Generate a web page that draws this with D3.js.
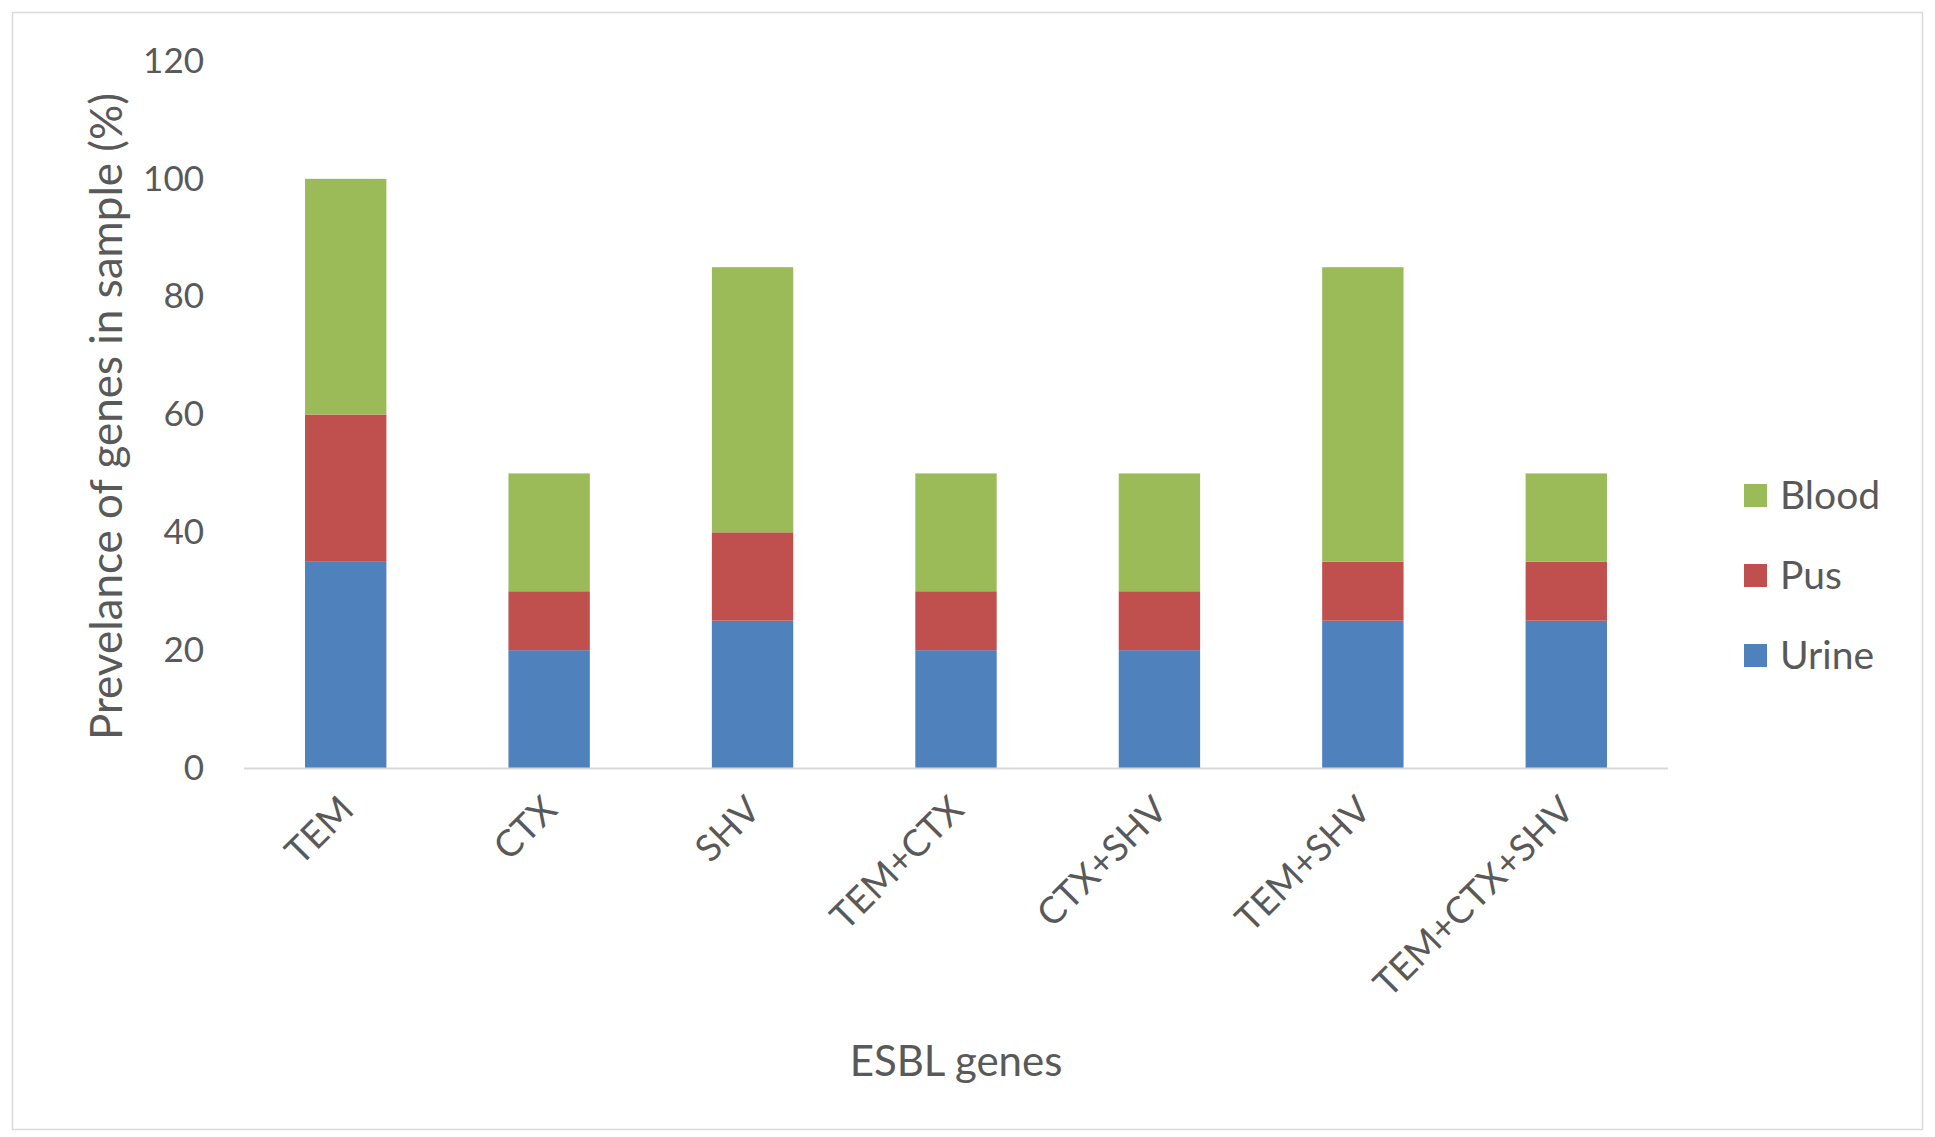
<!DOCTYPE html>
<html>
<head>
<meta charset="utf-8">
<script src="https://cdn.jsdelivr.net/npm/d3@7"></script>
<style>
  html, body { margin: 0; padding: 0; background: #fff; }
  svg text { font-family: Lato, "Open Sans", sans-serif; fill: #595959; }
</style>
</head>
<body>
<svg id="chart" width="1935" height="1137"></svg>
<script>
// ESBL gene combinations on the x axis
const categories = ["TEM", "CTX", "SHV", "TEM+CTX", "CTX+SHV", "TEM+SHV", "TEM+CTX+SHV"];
// Prevalence (%) contributed by each sample type, stacked bottom to top
const urine = [35, 20, 25, 20, 20, 25, 25];
const pus   = [25, 10, 15, 10, 10, 10, 10];
const blood = [40, 20, 45, 20, 20, 50, 15];
const seriesNames = ["Urine", "Pus", "Blood"];
const yTicks = [0, 20, 40, 60, 80, 100, 120];

const colors = { Urine: "#4F81BD", Pus: "#C0504D", Blood: "#9BBB59" };

const svg = d3.select("#chart");
const W = 1935, H = 1137;

// outer chart frame
svg.append("rect")
  .attr("x", 12.5).attr("y", 12.5)
  .attr("width", W - 25).attr("height", H - 20)
  .attr("fill", "#fff").attr("stroke", "#D9D9D9").attr("stroke-width", 1.5);

const plot = { left: 244, right: 1668, top: 61, bottom: 768 };

const x = d3.scaleBand().domain(categories)
  .range([plot.left, plot.right]).paddingInner(0.6).paddingOuter(0.3);
const y = d3.scaleLinear().domain([0, 120]).range([plot.bottom, plot.top]);

const table = categories.map((c, i) => ({ cat: c, Urine: urine[i], Pus: pus[i], Blood: blood[i] }));
const stacked = d3.stack().keys(seriesNames)(table);

svg.append("g").selectAll("g").data(stacked).join("g")
  .attr("fill", d => colors[d.key])
  .selectAll("rect").data(d => d).join("rect")
  .attr("x", d => x(d.data.cat))
  .attr("width", x.bandwidth())
  .attr("y", d => y(d[1]))
  .attr("height", d => y(d[0]) - y(d[1]));

// x axis line
svg.append("line")
  .attr("x1", plot.left).attr("x2", plot.right)
  .attr("y1", plot.bottom + 0.5).attr("y2", plot.bottom + 0.5)
  .attr("stroke", "#D9D9D9").attr("stroke-width", 2);

// y axis tick labels
const yAxis = svg.append("g")
  .attr("transform", `translate(${plot.left},0)`)
  .call(d3.axisLeft(y).tickValues(yTicks).tickSize(0).tickPadding(40));
yAxis.select(".domain").remove();
yAxis.selectAll("text")
  .style("font-size", "35px").attr("fill", "#595959")
  .style("font-family", "Lato, 'Open Sans', sans-serif");

// x axis category labels, rotated
const xAxis = svg.append("g")
  .attr("transform", `translate(0,${plot.bottom})`)
  .call(d3.axisBottom(x).tickSize(0).tickPadding(0));
xAxis.select(".domain").remove();
xAxis.selectAll("text")
  .style("font-size", "37px").attr("fill", "#595959")
  .style("font-family", "Lato, 'Open Sans', sans-serif")
  .attr("text-anchor", "end")
  .attr("dy", null).attr("y", 0)
  .attr("transform", "translate(10,44) rotate(-45)");

// axis titles
svg.append("text")
  .attr("transform", `translate(122,${(plot.top + plot.bottom) / 2 + 2}) rotate(-90)`)
  .attr("text-anchor", "middle")
  .style("font-size", "44px")
  .text("Prevelance of genes in sample (%)");

svg.append("text")
  .attr("x", 956).attr("y", 1076)
  .attr("text-anchor", "middle")
  .style("font-size", "42px")
  .text("ESBL genes");

// legend
const legendOrder = ["Blood", "Pus", "Urine"];
const lg = svg.append("g").selectAll("g").data(legendOrder).join("g")
  .attr("transform", (d, i) => `translate(1744,${496 + i * 80})`);
lg.append("rect")
  .attr("x", 0).attr("y", -12).attr("width", 23).attr("height", 23)
  .attr("fill", d => colors[d]);
lg.append("text")
  .attr("x", 36).attr("y", 13)
  .style("font-size", "39px")
  .text(d => d);
</script>
</body>
</html>
